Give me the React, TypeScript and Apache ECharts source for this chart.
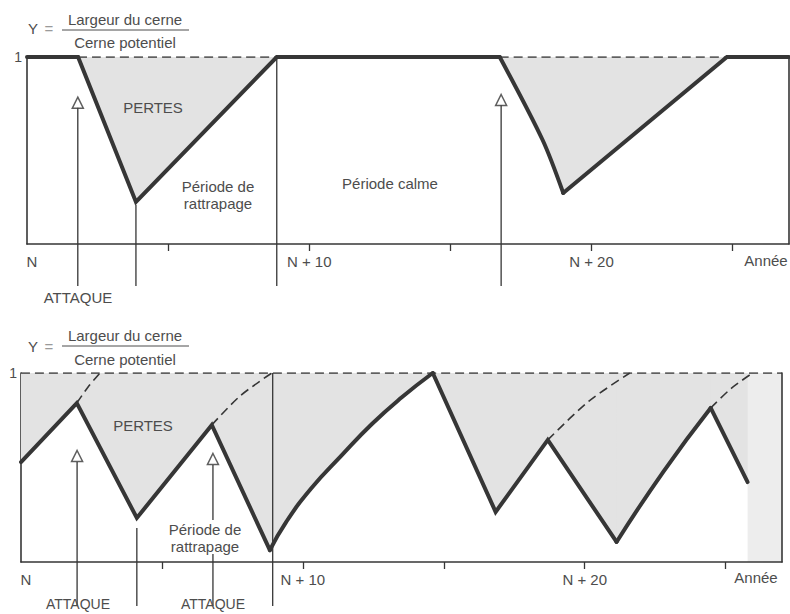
import React, { useEffect, useRef } from 'react';
import * as echarts from 'echarts';

// ---------- data ----------
const YEAR_MAX = 27;
const tickYears = [5, 10, 15, 20, 25];
const labelYears = [0, 10, 20];
const tickLabels = ['N', 'N + 10', 'N + 20'];
const axisEndLabel = 'Année';
const yTickLabel = '1';

// top diagram: one attack per outbreak, then recovery (straight or curved pieces)
const topSegA = [[0, 1], [1.81, 1], [3.86, 0.225], [8.85, 1], [16.75, 1]];
const topSegB = [[16.75, 1], [18.27, 0.556], [19.0, 0.273]];
const topSegC = [[19.0, 0.273], [24.8, 1], [27, 1]];
const topPotentialA = [[1.81, 1], [8.85, 1]];
const topPotentialB = [[16.75, 1], [24.8, 1]];
const topAttackYears = [1.8, 16.8];
const topArrowLevels = [0.756, 0.77];
const topArrowBases = [0.733, 0.743];
const topMarkYears = [3.86, 8.85];
const topMarkTops = [0.21, 1];
const topLineBottom = -0.225;

// bottom diagram: repeated attacks
const bottomSegA = [[0, 0.529], [1.98, 0.841], [4.11, 0.233], [6.77, 0.725], [8.83, 0.063]];
const bottomSegB = [[8.83, 0.063], [9.4, 0.21], [10.3, 0.39], [11.35, 0.56], [12.45, 0.73], [13.5, 0.87], [14.61, 1.0]];
const bottomSegC = [[14.61, 1.0], [16.84, 0.265], [18.69, 0.646], [21.13, 0.106]];
const bottomSegD = [[21.13, 0.106], [22.8, 0.48], [24.47, 0.815]];
const bottomSegE = [[24.47, 0.815], [25.78, 0.423]];
const bottomPotentialTop = [[0, 1], [27, 1]];
const bottomPotentialA = [[1.98, 0.841], [2.38, 0.926], [2.8, 1]];
const bottomPotentialB = [[6.77, 0.725], [7.77, 0.878], [8.9, 1]];
const bottomPotentialC = [[18.69, 0.646], [20.14, 0.85], [21.6, 1]];
const bottomPotentialD = [[24.47, 0.815], [25.21, 0.92], [25.96, 1]];
const bottomTailBand = [[25.78, 0], [27, 0]];
const bottomAttackYears = [1.99, 6.81];
const bottomArrowLevels = [0.561, 0.545];
const bottomArrowBases = [0.529, 0.513];
const bottomMarkYears = [4.11, 8.93];
const bottomMarkTops = [0.18, 1];
const bottomLineBottom = -0.233;

// ---------- style ----------
const INK = '#363636';
const TEXT = '#4d4d4d';
const FILL = '#e3e3e3';
const TAIL = '#ededed';
const FONT = '"Liberation Sans", Arial, Helvetica, sans-serif';

const xAxisCfg = (gridIndex: number) => ({
  type: 'value', gridIndex, min: 0, max: YEAR_MAX, interval: 5,
  axisLine: { show: true, onZero: false, lineStyle: { color: INK, width: 1.6 } },
  axisTick: { show: true, length: 7, customValues: tickYears, lineStyle: { color: INK, width: 1.3 } },
  splitLine: { show: false },
  axisLabel: {
    show: true, margin: 10, fontSize: 15, color: TEXT, fontFamily: FONT,
    customValues: labelYears,
    formatter: (v: number) => {
      const i = labelYears.indexOf(v);
      if (i < 0) return '';
      return i === 0 ? '{n|' + tickLabels[0] + '}' : tickLabels[i];
    },
    rich: { n: { padding: [0, 0, 0, 10], fontSize: 15, color: TEXT, fontFamily: FONT } },
  },
});

const yAxisCfg = (gridIndex: number, position: string, labelMargin: number) => ({
  type: 'value', gridIndex, min: 0, max: 1, interval: 1, position,
  axisLine: { show: true, onZero: false, lineStyle: { color: INK, width: 1.6 } },
  axisTick: { show: false },
  splitLine: { show: false },
  axisLabel: {
    show: position === 'left', margin: labelMargin, fontSize: 14, color: TEXT, fontFamily: FONT,
    formatter: (v: number) => (v === 1 ? yTickLabel : ''),
  },
});

const areaOnly = (xi: number, yi: number, data: number[][], smooth: number, z: number, color: string) => ({
  type: 'line', xAxisIndex: xi, yAxisIndex: yi, data, symbol: 'none', z, silent: true, smooth,
  lineStyle: { width: 0, opacity: 0 },
  areaStyle: { origin: 'end', color, opacity: 1 },
});

// area (below dashed lines) + thick curve (above everything)
const piece = (xi: number, yi: number, data: number[][], smooth: number) => [
  areaOnly(xi, yi, data, smooth, 1, FILL),
  {
    type: 'line', xAxisIndex: xi, yAxisIndex: yi, data, symbol: 'none', clip: false, z: 6, silent: true, smooth,
    lineStyle: { color: INK, width: 4, join: 'miter', miterLimit: 4, cap: 'round' },
  },
];

const dashed = (xi: number, yi: number, data: number[][]) => ({
  type: 'line', xAxisIndex: xi, yAxisIndex: yi, data, symbol: 'none', z: 4, silent: true, smooth: 0.3,
  lineStyle: { color: INK, width: 1.6, type: [9, 5] },
});

const vline = (xi: number, yi: number, x: number, y0: number, y1: number) => ({
  type: 'line', xAxisIndex: xi, yAxisIndex: yi, data: [[x, y0], [x, y1]], symbol: 'none', clip: false, z: 3, silent: true,
  lineStyle: { color: INK, width: 1.3 },
});

const arrows = (xi: number, yi: number, xs: number[], ys: number[]) => ({
  type: 'scatter', xAxisIndex: xi, yAxisIndex: yi, data: xs.map((x, i) => [x, ys[i]]), clip: false, z: 7, silent: true,
  symbol: 'triangle', symbolSize: [11, 11],
  itemStyle: { color: '#ffffff', borderColor: INK, borderWidth: 1.5 },
});

const txt = (text: string, x: number, y: number, extra: any = {}) => ({
  type: 'text', z: 50, style: { text, x, y, align: 'center', verticalAlign: 'middle', fontSize: 15, fontFamily: FONT, fill: TEXT, ...extra },
});

const hline = (x1: number, x2: number, y: number) => ({
  type: 'line', z: 50, shape: { x1, y1: y, x2, y2: y }, style: { stroke: TEXT, lineWidth: 1 },
});

export default function App() {
  const ref = useRef<HTMLDivElement>(null);
  useEffect(() => {
    document.body.style.margin = '0';
    if (!ref.current) return;
    const chart = echarts.init(ref.current, undefined, { renderer: 'svg' });

    const topAll = [...topSegA, ...topSegB.slice(1), ...topSegC.slice(1)];
    const bottomAll = [...bottomSegA, ...bottomSegB.slice(1), ...bottomSegC.slice(1), ...bottomSegD.slice(1), ...bottomSegE.slice(1)];

    const series: any[] = [
      // top
      areaOnly(0, 0, topAll, 0, 0, FILL),
      ...piece(0, 0, topSegA, 0),
      ...piece(0, 0, topSegB, 0.3),
      ...piece(0, 0, topSegC, 0),
      dashed(0, 0, topPotentialA),
      dashed(0, 0, topPotentialB),
      ...topAttackYears.map((x, i) => vline(0, 0, x, topLineBottom, topArrowBases[i])),
      ...topMarkYears.map((x, i) => vline(0, 0, x, topLineBottom, topMarkTops[i])),
      arrows(0, 0, topAttackYears, topArrowLevels),
      // bottom
      areaOnly(1, 2, bottomTailBand, 0, 0, TAIL),
      areaOnly(1, 2, bottomAll, 0, 0, FILL),
      ...piece(1, 2, bottomSegA, 0),
      ...piece(1, 2, bottomSegB, 0.5),
      ...piece(1, 2, bottomSegC, 0),
      ...piece(1, 2, bottomSegD, 0.5),
      ...piece(1, 2, bottomSegE, 0),
      dashed(1, 2, bottomPotentialTop),
      dashed(1, 2, bottomPotentialA),
      dashed(1, 2, bottomPotentialB),
      dashed(1, 2, bottomPotentialC),
      dashed(1, 2, bottomPotentialD),
      ...bottomAttackYears.map((x, i) => vline(1, 2, x, bottomLineBottom, bottomArrowBases[i])),
      ...bottomMarkYears.map((x, i) => vline(1, 2, x, bottomLineBottom, bottomMarkTops[i])),
      arrows(1, 2, bottomAttackYears, bottomArrowLevels),
    ];

    const graphic: any[] = [
      // top header
      txt('Y', 33, 28), txt('=', 49, 28, { fill: '#9a9a9a' }),
      txt('Largeur du cerne', 125, 19), hline(62, 189, 30), txt('Cerne potentiel', 125, 42),
      txt('PERTES', 153, 107),
      txt('Période de', 218, 186), txt('rattrapage', 218, 203),
      txt('Période calme', 390, 183),
      txt('ATTAQUE', 78, 297),
      txt(axisEndLabel, 766, 260),
      // bottom header
      txt('Y', 33, 346), txt('=', 49, 346, { fill: '#9a9a9a' }),
      txt('Largeur du cerne', 125, 335), hline(62, 189, 346), txt('Cerne potentiel', 125, 359),
      txt('PERTES', 143, 425),
      { type: 'rect', z: 45, shape: { x: 168, y: 520, width: 74, height: 34 }, style: { fill: '#ffffff' } },
      txt('Période de', 205, 529), txt('rattrapage', 205, 546),
      txt('ATTAQUE', 78, 604, { fontSize: 14 }), txt('ATTAQUE', 213, 604, { fontSize: 14 }),
      txt(axisEndLabel, 756, 577),
    ];

    chart.setOption({
      animation: false,
      backgroundColor: '#ffffff',
      grid: [
        { left: 27, right: 1, top: 57, height: 187 },
        { left: 21, right: 8, top: 373, height: 189 },
      ],
      xAxis: [xAxisCfg(0), xAxisCfg(1)],
      yAxis: [yAxisCfg(0, 'left', 5), yAxisCfg(0, 'right', 5), yAxisCfg(1, 'left', 4), yAxisCfg(1, 'right', 4)],
      series,
      graphic,
    });
    return () => chart.dispose();
  }, []);
  return <div ref={ref} style={{ position: 'fixed', left: 0, top: 0, width: 790, height: 614, background: '#fff' }} />;
}
